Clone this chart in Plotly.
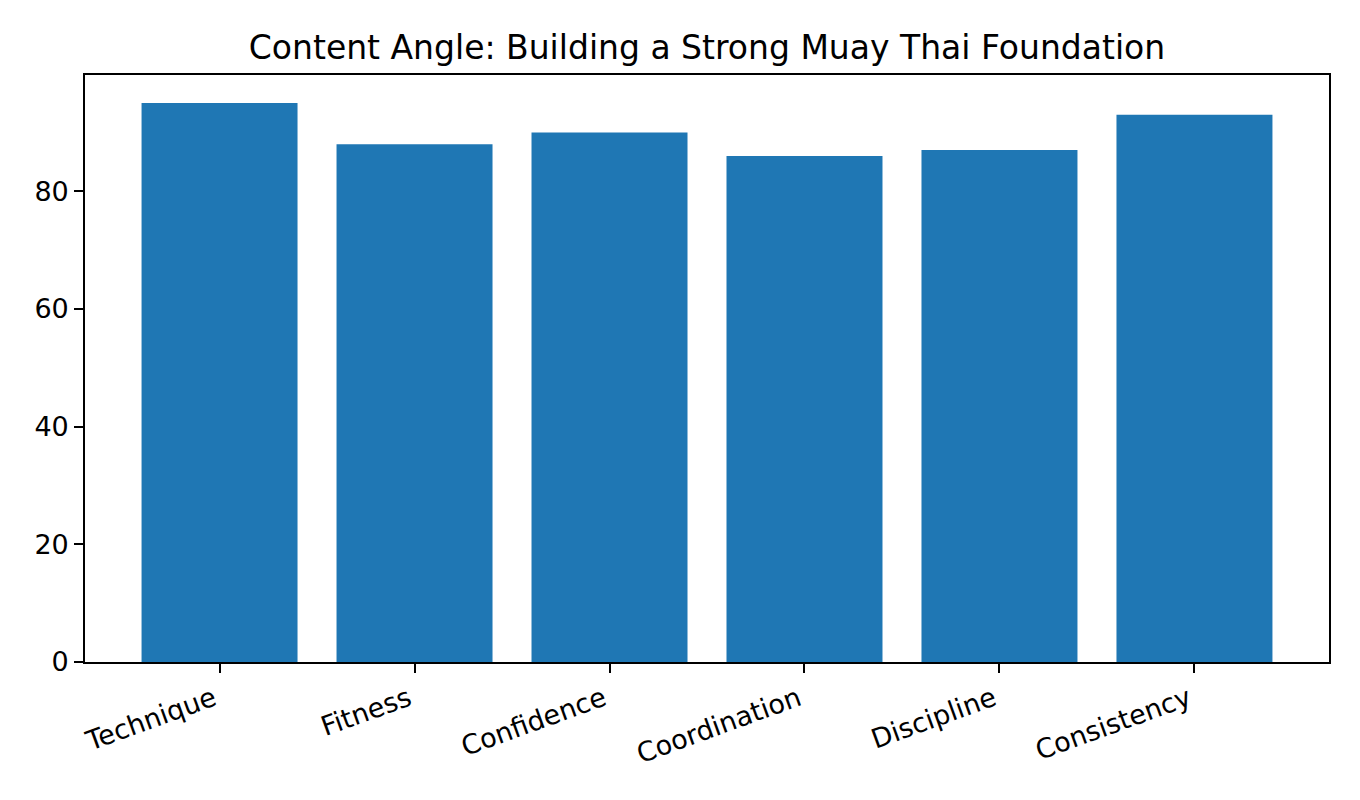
import plotly.graph_objects as go

categories = ["Technique", "Fitness", "Confidence", "Coordination", "Discipline", "Consistency"]
scores = [95, 88, 90, 86, 87, 93]
y_ticks = [0, 20, 40, 60, 80]

fig = go.Figure()
fig.add_trace(go.Bar(x=list(range(len(categories))), y=scores,
                     marker=dict(color="#1f77b4", line=dict(width=0)),
                     width=0.8))

# page body has an 8px margin, so positions below are shifted by 8px
axis_style = dict(showline=True, linecolor="black", linewidth=1.6, mirror=True,
                  ticks="outside", ticklen=9, tickwidth=1.6, tickcolor="black",
                  showgrid=False, zeroline=False,
                  tickfont=dict(family="DejaVu Sans", size=27, color="black"))

fig.update_xaxes(range=[-0.69, 5.69], tickvals=list(range(len(categories))),
                 ticktext=categories, tickangle=-20, ticklabelshift=-6, **axis_style)
fig.update_yaxes(range=[0, 99.75], tickvals=y_ticks, **axis_style)

fig.update_layout(
    width=1360, height=800,
    plot_bgcolor="white", paper_bgcolor="white",
    margin=dict(l=77, r=39, t=67, b=146, autoexpand=False),
    showlegend=False,
    title=dict(text="Content Angle: Building a Strong Muay Thai Foundation",
               x=(77 + 1321) / 2 / 1360, xanchor="center", y=1 - 39 / 800, yanchor="middle",
               yref="container",
               font=dict(family="DejaVu Sans", size=33, color="black")),
)

fig.write_html("out.html")
